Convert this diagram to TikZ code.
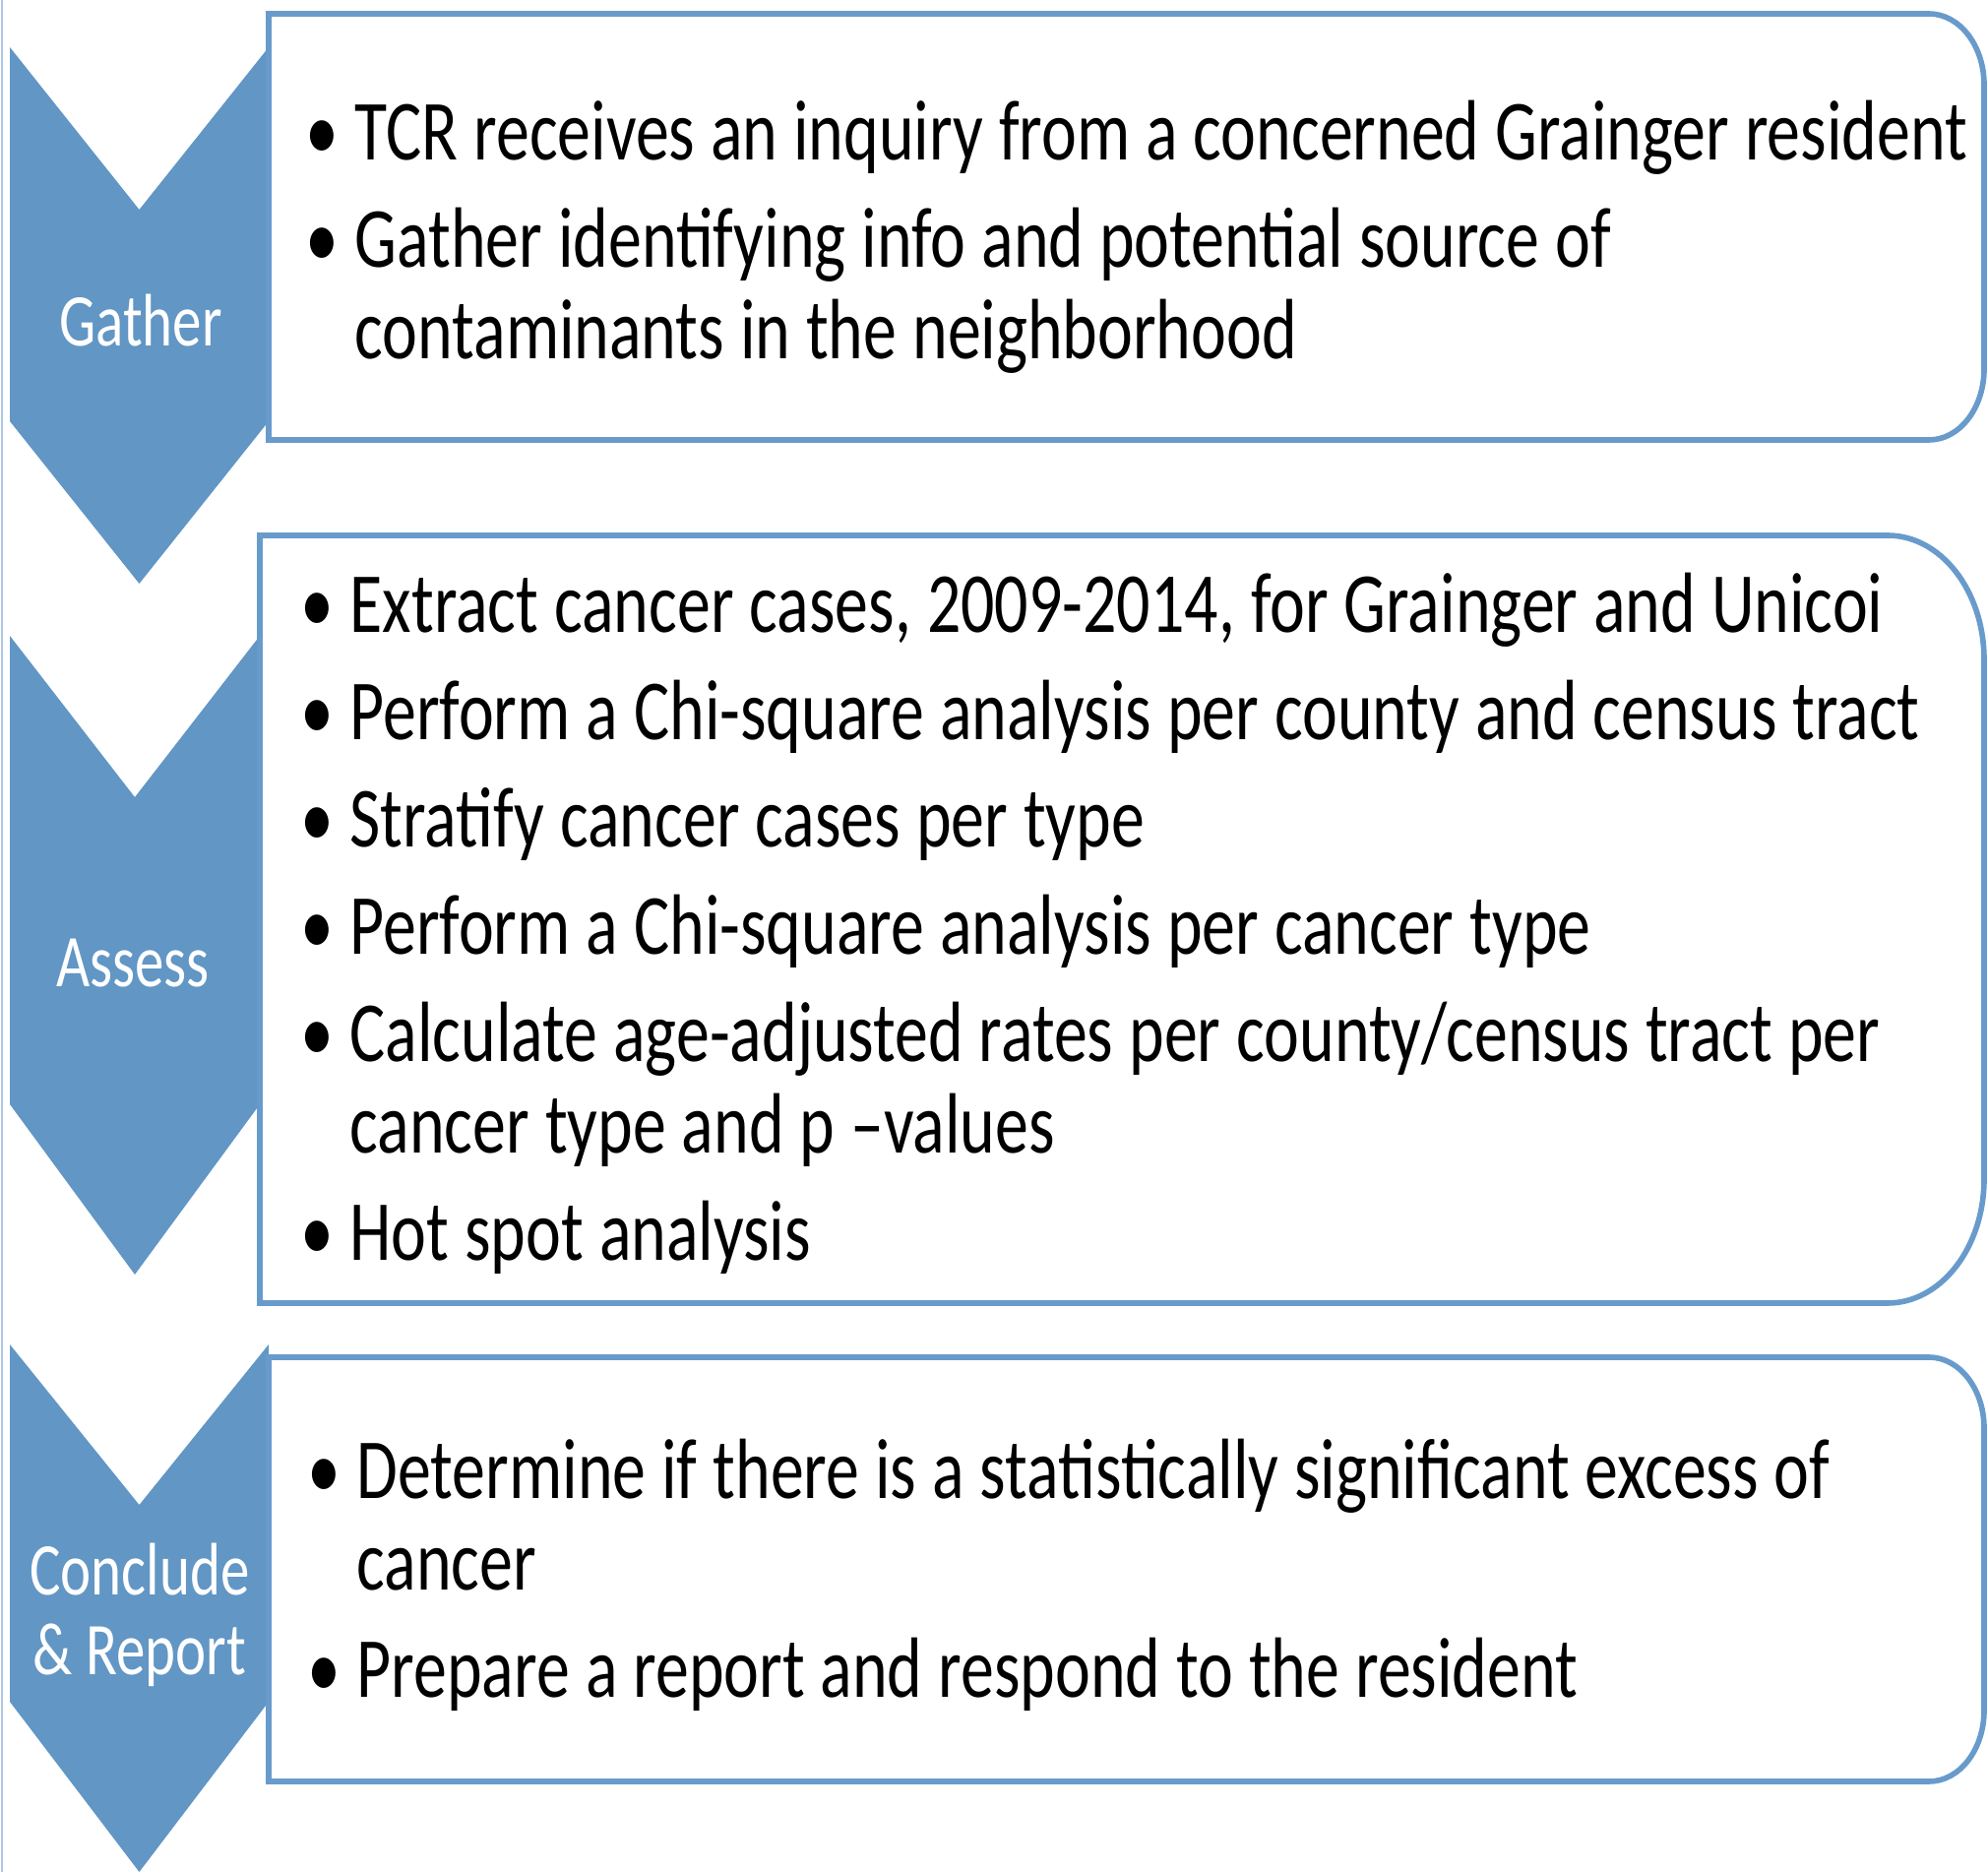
\documentclass[tikz,border=0pt]{standalone}
\usepackage{fontspec}
\setmainfont{Carlito}[FakeStretch=0.78]
\usepackage{tikz}
\definecolor{stepblue}{RGB}{97,150,197}
\definecolor{frameblue}{RGB}{104,155,203}
\definecolor{edgeblue}{RGB}{176,200,228}

% one bullet point, later lines hang under the text
\newcommand{\bul}[1]{\hangindent=0.50cm\hangafter=1\noindent\makebox[0.50cm][l]{\textbullet}#1\par}

\begin{document}
\begin{tikzpicture}[
    chevron/.style={fill=stepblue, draw=none},
    frame/.style={draw=frameblue, line width=1.6pt},
    steplabel/.style={text=white, align=center, inner sep=0pt, font=\fontsize{21.5pt}{23pt}\selectfont},
    bullets/.style={anchor=base west, inner sep=0pt, text width=17.5cm, font=\fontsize{24.75pt}{26.46pt}\selectfont,
        execute at begin node={\setlength{\parskip}{0.16cm}\raggedright\hyphenpenalty=10000
            \spaceskip=0.16cm plus 0.05cm minus 0.03cm\relax}}
]
\useasboundingbox (0,0) rectangle (20.20,19.02);
\draw[edgeblue, line width=0.6pt] (0.02,0) -- (0.02,19.02);

% chevrons
\fill[chevron] (0.10,18.54) -- (1.415,16.89) -- (2.73,18.54) -- (2.73,14.74) -- (1.415,13.09) -- (0.10,14.74) -- cycle;
\fill[chevron] (0.10,12.56) -- (1.37,10.92) -- (2.64,12.56) -- (2.64,7.80) -- (1.37,6.07) -- (0.10,7.80) -- cycle;
\fill[chevron] (0.10,5.36) -- (1.415,3.73) -- (2.73,5.36) -- (2.73,1.73) -- (1.415,0.00) -- (0.10,1.73) -- cycle;

% frames, rounded on the right only
\draw[frame] (2.73,18.88) -- (19.60,18.88) arc[start angle=90, end angle=0, x radius=0.56, y radius=0.72]
    -- (20.16,15.27) arc[start angle=0, end angle=-90, x radius=0.56, y radius=0.72] -- (2.73,14.55) -- cycle;
\draw[frame] (2.64,13.58) -- (19.18,13.58) arc[start angle=90, end angle=0, x radius=0.98, y radius=1.26]
    -- (20.16,7.04) arc[start angle=0, end angle=-90, x radius=0.98, y radius=1.26] -- (2.64,5.78) -- cycle;
\draw[frame] (2.73,5.23) -- (19.60,5.23) arc[start angle=90, end angle=0, x radius=0.56, y radius=0.72]
    -- (20.16,1.64) arc[start angle=0, end angle=-90, x radius=0.56, y radius=0.72] -- (2.73,0.92) -- cycle;

\node[steplabel] (gather) at (1.43,15.76) {Gather};
\node[steplabel] (assess) at (1.35,9.23) {Assess};
\node[steplabel] (conclude) at (1.42,2.61) {Conclude\\\& Report};

\node[bullets] (gatherTxt) at (3.10,17.39) {%
    \bul{TCR receives an inquiry from a concerned Grainger resident}
    \bul{Gather identifying info and potential source of\newline contaminants in the neighborhood}};
\node[bullets] (assessTxt) at (3.05,12.59) {%
    \bul{Extract cancer cases, 2009-2014, for Grainger and Unicoi}
    \bul{Perform a Chi-square analysis per county and census tract}
    \bul{Stratify cancer cases per type}
    \bul{Perform a Chi-square analysis per cancer type}
    \bul{Calculate age-adjusted rates per county/census tract per\newline cancer type and p –values}
    \bul{Hot spot analysis}};
\node[bullets] (concludeTxt) at (3.12,3.79) {%
    \bul{Determine if there is a statistically significant excess of\newline cancer}
    \bul{Prepare a report and respond to the resident}};
\end{tikzpicture}
\end{document}
